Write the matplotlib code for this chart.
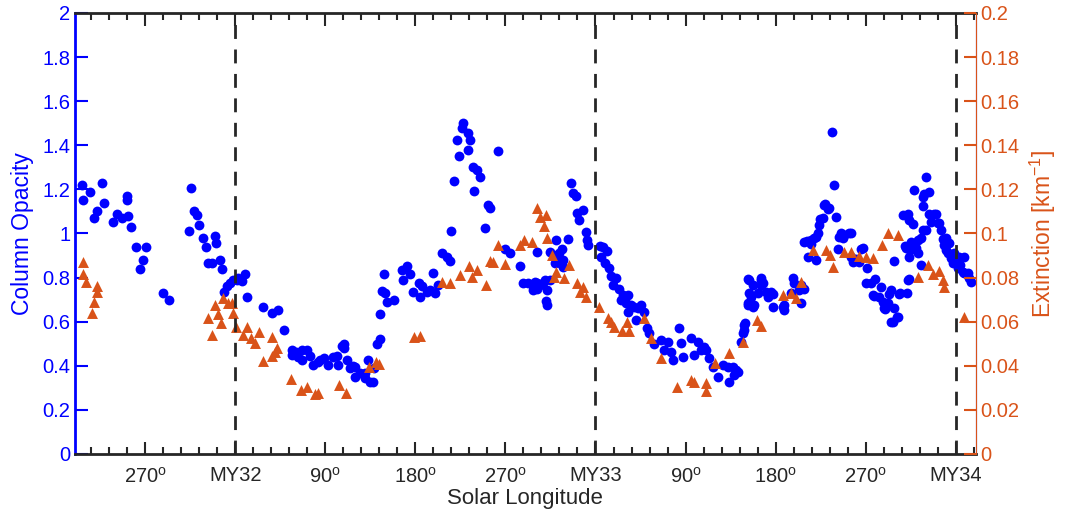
import matplotlib
matplotlib.use('Agg')
import matplotlib.pyplot as plt
from matplotlib import rcParams, ticker

# Solar longitude counted continuously from the start of MY32 (negative = MY31)
opacity_ls = [-153, -152, -145, -141, -138, -133, -131, -122, -118, -113, -108, -108, -107, -104,
              -99, -95, -92, -89, -72, -66, -46, -44, -41, -38, -36, -32, -29, -27, -23, -20,
              -19, -15, -13, -11, -8, -5, -2, 2, 3, 7, 10, 12, 28, 37, 43, 49, 57, 57, 61, 63,
              67, 67, 72, 75, 78, 83, 85, 89, 93, 98, 102, 103, 107, 109, 109, 112, 115, 118,
              120, 120, 125, 130, 130, 133, 135, 138, 139, 142, 145, 145, 147, 149, 150, 152,
              159, 167, 168, 172, 175, 178, 184, 185, 187, 192, 195, 198, 200, 203, 207, 212,
              215, 216, 219, 222, 224, 227, 228, 233, 233, 235, 238, 239, 242, 245, 250, 253,
              255, 263, 270, 275, 285, 288, 293, 298, 298, 300, 302, 302, 302, 305, 308, 310,
              311, 312, 312, 315, 315, 320, 321, 322, 324, 325, 327, 328, 328, 333, 336, 338,
              341, 342, 344, 348, 351, 352, 353, 365, 366, 368, 370, 371, 373, 375, 377, 380,
              383, 385, 387, 390, 392, 392, 395, 398, 400, 402, 405, 408, 411, 413, 418, 425,
              428, 432, 435, 437, 443, 445, 447, 455, 458, 462, 465, 468, 470, 473, 477, 482,
              487, 492, 493, 497, 498, 500, 502, 505, 507, 508, 508, 509, 512, 512, 512, 513,
              513, 515, 517, 517, 518, 522, 525, 525, 525, 527, 530, 532, 535, 537, 537, 547,
              548, 548, 555, 557, 558, 563, 565, 565, 568, 568, 571, 572, 575, 575, 578, 580,
              580, 582, 583, 584, 587, 588, 589, 592, 593, 596, 598, 600, 602, 603, 605, 607,
              608, 613, 615, 615, 617, 620, 623, 625, 627, 630, 631, 635, 637, 638, 639, 643,
              645, 647, 648, 649, 652, 653, 655, 655, 657, 658, 658, 661, 662, 663, 664, 667,
              669, 670, 671, 672, 672, 673, 673, 673, 674, 675, 677, 678, 680, 682, 682, 685,
              685, 687, 687, 687, 688, 690, 690, 693, 693, 695, 698, 700, 702, 703, 705, 707,
              708, 710, 710, 712, 713, 715, 717, 718, 722, 723, 724, 727, 728, 728, 732, 733,
              735]
opacity = [1.22, 1.15, 1.19, 1.07, 1.10, 1.23, 1.14, 1.05, 1.09, 1.07, 1.17, 1.15, 1.08, 1.03,
           0.94, 0.84, 0.88, 0.94, 0.73, 0.70, 1.01, 1.205, 1.10, 1.085, 1.04, 0.98, 0.94, 0.865, 0.865, 0.99,
           0.955, 0.88, 0.84, 0.735, 0.76, 0.775, 0.79, 0.79, 0.80, 0.785, 0.815, 0.71, 0.665, 0.64, 0.653, 0.562, 0.47, 0.45, 0.464, 0.44,
           0.47, 0.426, 0.47, 0.444, 0.404, 0.415, 0.426, 0.434, 0.404, 0.441, 0.444, 0.404, 0.49, 0.499, 0.48, 0.426, 0.389, 0.40,
           0.396, 0.35, 0.366, 0.366, 0.343, 0.426, 0.328, 0.328, 0.389, 0.50, 0.52, 0.635, 0.74, 0.815, 0.73, 0.69,
           0.70, 0.834, 0.79, 0.854, 0.815, 0.736, 0.774, 0.713, 0.76, 0.736, 0.744, 0.82, 0.73, 0.766, 0.913, 0.895,
           0.875, 1.013, 1.24, 1.424, 1.353, 1.48, 1.50, 1.457, 1.38, 1.424, 1.30, 1.194, 1.29, 1.255, 1.026, 1.13,
           1.114, 1.375, 0.928, 0.91, 0.854, 0.774, 0.777, 0.744, 0.76, 0.78, 0.774, 0.75, 0.917, 0.766, 0.774, 0.79,
           0.695, 0.744, 0.676, 0.79, 0.917, 0.865, 0.97, 0.902, 0.91, 0.865, 0.93, 0.85, 0.88, 0.974, 1.228, 1.185,
           1.17, 1.094, 1.061, 1.107, 1.008, 0.97, 0.948, 0.943, 0.895, 0.94, 0.865, 0.922, 0.842, 0.807, 0.766, 0.80,
           0.747, 0.70, 0.72, 0.683, 0.72, 0.645, 0.676, 0.668, 0.608, 0.66, 0.676, 0.645, 0.57, 0.547, 0.50, 0.517,
           0.472, 0.51, 0.464, 0.426, 0.57, 0.502, 0.441, 0.525, 0.449, 0.51, 0.472, 0.487, 0.472, 0.434, 0.396, 0.35,
           0.404, 0.396, 0.328, 0.396, 0.358, 0.381, 0.373, 0.51, 0.547, 0.585, 0.562, 0.593, 0.792, 0.676, 0.683, 0.729,
           0.79, 0.713, 0.766, 0.668, 0.676, 0.729, 0.797, 0.79, 0.766, 0.774, 0.736, 0.713, 0.736, 0.726, 0.665, 0.668,
           0.653, 0.676, 0.729, 0.797, 0.777, 0.744, 0.683, 0.766, 0.963, 0.75, 0.967, 0.895, 0.97, 0.952, 0.978, 0.985,
           0.88, 1.00, 1.039, 1.064, 1.07, 1.13, 1.134, 1.11, 1.114, 1.462, 1.22, 1.076, 0.928, 0.985, 1.00, 0.978,
           0.993, 1.00, 1.004, 0.895, 0.872, 0.883, 0.872, 0.928, 0.933, 0.774, 0.842, 0.774, 0.72, 0.717, 0.792, 0.713,
           0.759, 0.69, 0.66, 0.656, 0.683, 0.726, 0.744, 0.60, 0.60, 0.877, 0.66, 0.623, 0.623, 0.726, 0.732, 1.084,
           0.943, 0.933, 0.732, 1.09, 0.79, 1.061, 0.792, 0.895, 0.925, 0.963, 1.043, 1.197, 0.933, 0.91, 0.97, 0.978,
           0.857, 1.167, 1.125, 1.016, 1.18, 1.258, 1.016, 1.19, 1.09, 1.05, 1.09, 1.09, 1.046, 1.049, 1.016, 0.974,
           0.948, 0.978, 0.925, 0.91, 0.955, 0.887, 0.865, 0.91, 0.842, 0.892, 0.857, 0.827, 0.892, 0.82, 0.82, 0.80,
           0.781]

ext_ls = [-152, -152, -149, -143, -141, -138, -138, -27, -23, -20, -17, -14, -12, -7, -3, -2, 1, 8,
          12, 16, 20, 24, 28, 37, 37, 40, 42, 56, 66, 72, 80, 83, 104, 111, 134, 141, 144, 179,
          185, 207, 215, 225, 234, 237, 242, 251, 255, 258, 263, 270, 285, 289, 297, 302, 305, 311,
          309, 312, 317, 321, 319, 329, 334, 342, 348, 345, 351, 364, 372, 375, 378, 386, 391, 393,
          408, 415, 425, 441, 455, 458, 470, 470, 479, 493, 507, 521, 525, 547, 555, 560, 565, 577,
          590, 594, 597, 608, 615, 623, 630, 637, 646, 652, 662, 682, 692, 697, 703, 707, 708, 728]
extinction = [0.087, 0.0815, 0.078, 0.064, 0.069, 0.0736, 0.076, 0.0615, 0.054, 0.0675, 0.0635, 0.0593, 0.0706, 0.0683, 0.0683, 0.064, 0.0577, 0.054,
              0.0575, 0.0525, 0.0505, 0.0555, 0.042, 0.053, 0.0444, 0.0464, 0.048, 0.0339, 0.029, 0.0305, 0.0272, 0.0278, 0.0313, 0.0275, 0.0396, 0.0419, 0.0408, 0.053,
              0.0535, 0.078, 0.0777, 0.081, 0.0854, 0.0804, 0.0834, 0.0766, 0.0877, 0.0872, 0.0948, 0.0862, 0.0948, 0.097, 0.0963, 0.1114, 0.1076, 0.1082,
              0.1034, 0.0978, 0.0902, 0.0827, 0.0804, 0.0797, 0.0857, 0.0774, 0.0756, 0.0736, 0.0713, 0.0665, 0.0615, 0.060, 0.0577, 0.0558, 0.060, 0.0558,
              0.0615, 0.0528, 0.0434, 0.0305, 0.0336, 0.0328, 0.032, 0.0286, 0.0411, 0.0456, 0.0506, 0.0608, 0.058, 0.072, 0.0729, 0.0706, 0.0781, 0.0925,
              0.0925, 0.0902, 0.0847, 0.0917, 0.0914, 0.090, 0.0895, 0.0887, 0.0948, 0.1002, 0.0995, 0.0801, 0.0857, 0.0816, 0.0831, 0.0789, 0.0759, 0.0623]

year_starts = [0, 360, 720]
tick_pos = [-90, 0, 90, 180, 270, 360, 450, 540, 630, 720]
tick_labels = [r'270$^{\rm o}$', 'MY32', r'90$^{\rm o}$', r'180$^{\rm o}$', r'270$^{\rm o}$',
               'MY33', r'90$^{\rm o}$', r'180$^{\rm o}$', r'270$^{\rm o}$', 'MY34']

blue = '#0000FF'
orange = '#D95319'
dark = '#262626'

rcParams['font.family'] = 'Liberation Sans'
rcParams['mathtext.fontset'] = 'custom'
rcParams['mathtext.rm'] = 'Liberation Sans'
rcParams['mathtext.it'] = 'Liberation Sans:italic'
rcParams['font.size'] = 14

fig = plt.figure(figsize=(10.66, 5.17), dpi=100)
ax = fig.add_axes([0.0704, 0.1219, 0.845, 0.853])
ax2 = ax.twinx()

ax.scatter(opacity_ls, opacity, s=50, color=blue, marker='o', linewidths=0, zorder=3)
ax2.scatter(ext_ls, extinction, s=62, color=orange, marker='^', linewidths=0, zorder=3)
for xs in year_starts:
    ax2.axvline(xs, color=dark, lw=2, ls=(0, (5, 3.8)), zorder=4)

ax.set_xlim(-160, 740)
ax.set_ylim(0, 2)
ax2.set_ylim(0, 0.2)

ax.set_xticks(tick_pos)
ax.set_xticklabels(tick_labels)
ax.xaxis.set_minor_locator(ticker.MultipleLocator(18))
ax.yaxis.set_major_locator(ticker.MultipleLocator(0.2))
ax.yaxis.set_major_formatter(ticker.FuncFormatter(lambda v, p: format(round(v, 1), 'g')))
ax2.yaxis.set_major_locator(ticker.MultipleLocator(0.02))
ax2.yaxis.set_major_formatter(ticker.FuncFormatter(lambda v, p: format(round(v, 2), 'g')))

ax.tick_params(axis='x', which='both', direction='in', top=True, colors=dark, labelsize=14.5, width=1.5, pad=9)
ax.tick_params(axis='x', which='major', length=9)
ax.tick_params(axis='x', which='minor', length=5)
ax.tick_params(axis='y', direction='in', colors=blue, labelsize=14.5, length=9, width=1.5, right=False)
ax2.tick_params(axis='y', direction='in', colors=orange, labelsize=14.5, length=9, width=1.5)

ax.spines['left'].set_color(blue)
ax.spines['left'].set_linewidth(2)
ax.spines['bottom'].set_color(dark)
ax.spines['bottom'].set_linewidth(2)
ax.spines['top'].set_color(dark)
ax.spines['top'].set_linewidth(2)
ax.spines['right'].set_color(blue)
ax2.spines['right'].set_color(orange)
ax2.spines['right'].set_linewidth(0.8)
for s in ['left', 'top', 'bottom']:
    ax2.spines[s].set_visible(False)

ax.set_xlabel('Solar Longitude', color=dark, fontsize=16, labelpad=1)
ax.set_ylabel('Column Opacity', color=blue, fontsize=16.5, labelpad=6)
ax2.set_ylabel(r'Extinction [km$^{-1}$]', color=orange, fontsize=16.5, labelpad=6)

plt.savefig('out.png', dpi=100)
